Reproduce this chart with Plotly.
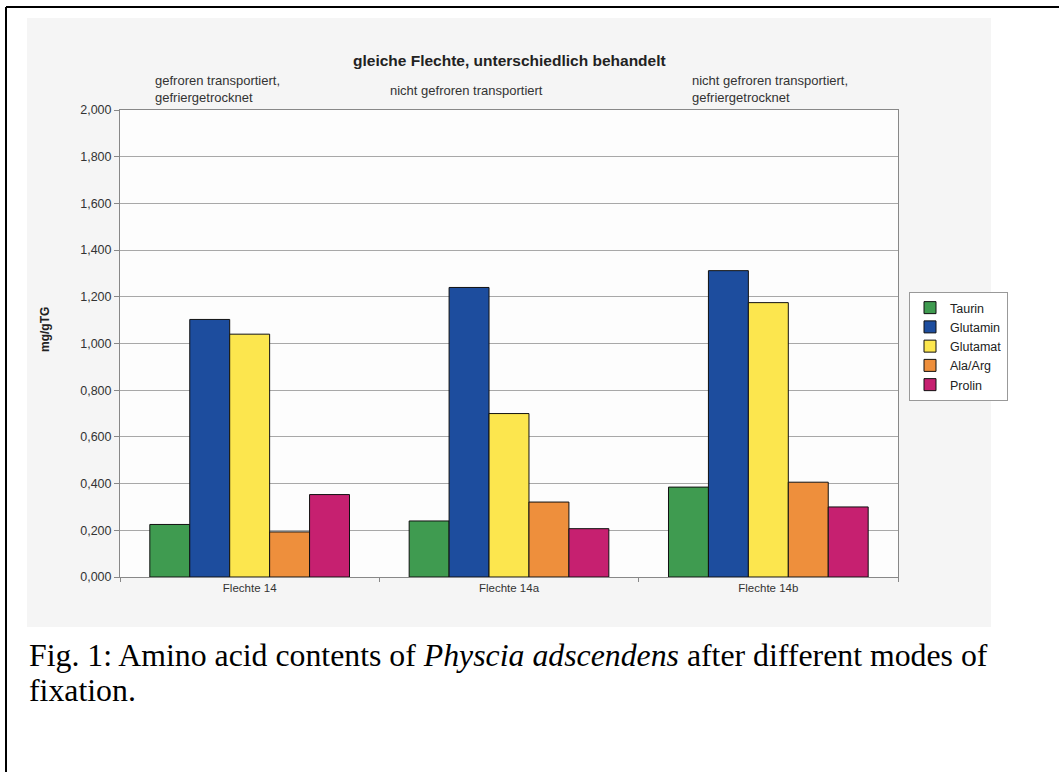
import plotly.graph_objects as go

categories = ["Flechte 14", "Flechte 14a", "Flechte 14b"]
series_names = ["Taurin", "Glutamin", "Glutamat", "Ala/Arg", "Prolin"]
taurin = [0.225, 0.240, 0.385]
glutamin = [1.103, 1.240, 1.312]
glutamat = [1.040, 0.700, 1.175]
ala_arg = [0.193, 0.321, 0.406]
prolin = [0.353, 0.207, 0.300]
series_values = [taurin, glutamin, glutamat, ala_arg, prolin]
colors = ["#3f9b50", "#1d4d9e", "#fce64e", "#ee8f3c", "#c62070"]
ytick_vals = [0.0, 0.2, 0.4, 0.6, 0.8, 1.0, 1.2, 1.4, 1.6, 1.8, 2.0]

W, H = 1059, 772
L, R, T, B = 120, 161, 110, 195
PW, PH = W - L - R, H - T - B


def px(x):
    return (x - L) / PW


def py(y):
    return (H - B - y) / PH


fig = go.Figure()
for name, vals, col in zip(series_names, series_values, colors):
    fig.add_trace(go.Bar(
        x=categories, y=vals, name=name,
        marker=dict(color=col, line=dict(color="#111111", width=1)),
    ))

sans = "Liberation Sans, Arial, sans-serif"
serif = "Liberation Serif, Times New Roman, serif"

fig.update_layout(
    width=W, height=H,
    margin=dict(l=L, r=R, t=T, b=B, pad=0),
    paper_bgcolor="white",
    plot_bgcolor="#fdfdfd",
    barmode="group", bargap=0.23, bargroupgap=0.0,
    separators=",.",
    font=dict(family=sans, size=11, color="#333333"),
    showlegend=True,
    legend=dict(
        x=px(909), y=py(292), xanchor="left", yanchor="top",
        bgcolor="white", bordercolor="#999999", borderwidth=1,
        font=dict(family=sans, size=12.5, color="#222222"),
        itemwidth=30, tracegroupgap=0,
    ),
    xaxis=dict(
        showline=True, linecolor="#888888", linewidth=1, mirror=True,
        ticks="outside", ticklen=4, tickcolor="#888888", tickson="boundaries",
        tickfont=dict(family=sans, size=11.5, color="#333333"),
        showgrid=False, zeroline=False,
    ),
    yaxis=dict(
        range=[0, 2.0], tickvals=ytick_vals, tickformat=".3f",
        showline=True, linecolor="#888888", linewidth=1, mirror=True,
        ticks="outside", ticklen=5, tickcolor="#888888",
        showgrid=True, gridcolor="#a8a8a8", gridwidth=1,
        zeroline=False,
        tickfont=dict(family=sans, size=12.5, color="#333333"),
    ),
    shapes=[
        dict(type="rect", xref="paper", yref="paper",
             x0=px(27), x1=px(991), y0=py(627), y1=py(18),
             fillcolor="#f5f5f5", line=dict(width=0), layer="below"),
        dict(type="rect", xref="paper", yref="paper",
             x0=0, x1=1, y0=0, y1=1,
             fillcolor="#fdfdfd", line=dict(width=0), layer="below"),
        dict(type="line", xref="paper", yref="paper",
             x0=px(6), x1=px(1059), y0=py(7), y1=py(7),
             line=dict(color="black", width=2)),
        dict(type="line", xref="paper", yref="paper",
             x0=px(6), x1=px(6), y0=py(7), y1=py(772),
             line=dict(color="black", width=2)),
    ],
    annotations=[
        dict(text="<b>gleiche Flechte, unterschiedlich behandelt</b>",
             xref="paper", yref="paper", x=px(509), y=py(60),
             xanchor="center", yanchor="middle",
             showarrow=False, font=dict(family=sans, size=15.5, color="#222222")),
        dict(text="gefroren transportiert,<br>gefriergetrocknet",
             xref="paper", yref="paper", x=px(153), y=py(89),
             xanchor="left", yanchor="middle", align="left",
             showarrow=False, font=dict(family=sans, size=13, color="#333333")),
        dict(text="nicht gefroren transportiert",
             xref="paper", yref="paper", x=px(388), y=py(91),
             xanchor="left", yanchor="middle", align="left",
             showarrow=False, font=dict(family=sans, size=13, color="#333333")),
        dict(text="nicht gefroren transportiert,<br>gefriergetrocknet",
             xref="paper", yref="paper", x=px(690), y=py(89),
             xanchor="left", yanchor="middle", align="left",
             showarrow=False, font=dict(family=sans, size=13, color="#333333")),
        dict(text="<b>mg/gTG</b>", textangle=-90,
             xref="paper", yref="paper", x=px(45), y=py(330),
             xanchor="center", yanchor="middle",
             showarrow=False, font=dict(family=sans, size=12, color="#222222")),
        dict(text="Fig. 1: Amino acid contents of <i>Physcia adscendens</i> after different modes of",
             xref="paper", yref="paper", x=px(27), y=py(655), xanchor="left", yanchor="middle",
             align="left", showarrow=False,
             font=dict(family=serif, size=31.8, color="black")),
        dict(text="fixation.",
             xref="paper", yref="paper", x=px(27), y=py(690), xanchor="left", yanchor="middle",
             align="left", showarrow=False,
             font=dict(family=serif, size=31.8, color="black")),
    ],
)

fig.write_html("out.html", config={"displayModeBar": False},
               post_script="document.body.style.margin='0';")
